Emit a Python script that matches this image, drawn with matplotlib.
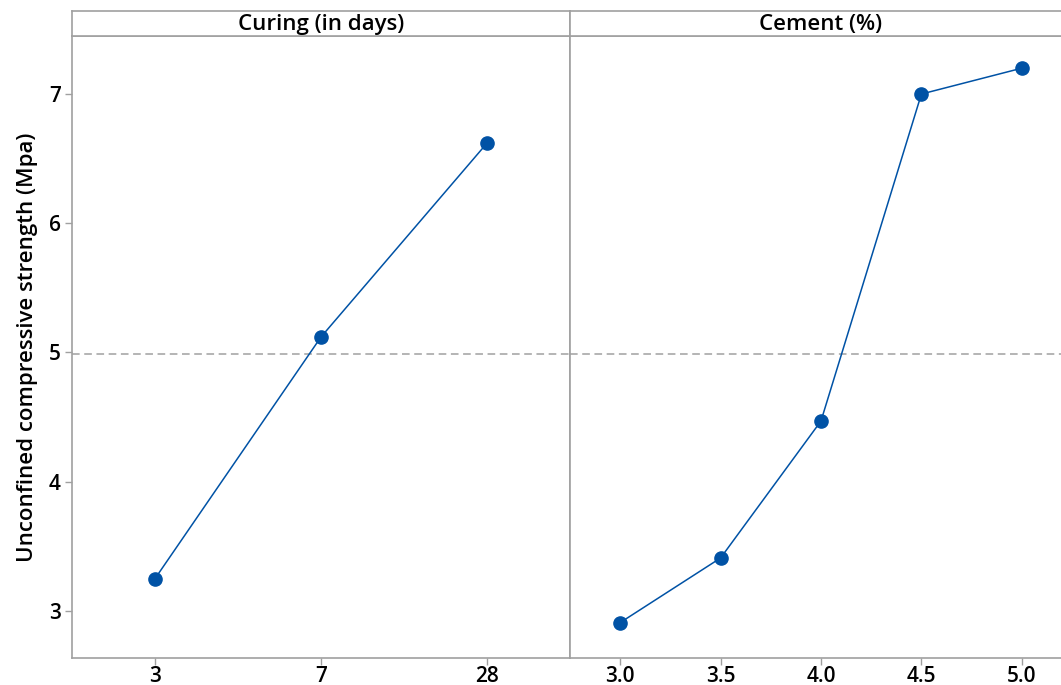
import matplotlib.pyplot as plt

plt.rcParams['font.family'] = ['Open Sans', 'DejaVu Sans']

# main effects: mean strength per factor level
curing_levels = ['3', '7', '28']
curing_means = [3.25, 5.12, 6.62]
cement_levels = ['3.0', '3.5', '4.0', '4.5', '5.0']
cement_means = [2.91, 3.41, 4.47, 7.00, 7.20]
y_ticks = [3, 4, 5, 6, 7]
overall_mean = 4.99

blue = '#0052a5'
grey = '#a0a0a0'

fig = plt.figure(figsize=(10.61, 6.85), dpi=100)

W, H = 1061, 685
def box(x0, y0, x1, y1):
    # pixel box -> figure fraction rect
    return [x0 / W, 1 - y1 / H, (x1 - x0) / W, (y1 - y0) / H]

panels = [
    (box(72, 36, 570, 658), box(72, 11, 570, 36), 'Curing (in days)', curing_levels, curing_means),
    (box(570, 36, 1072, 658), box(570, 11, 1072, 36), 'Cement (%)', cement_levels, cement_means),
]

for i, (rect, hrect, title, levels, means) in enumerate(panels):
    ax = fig.add_axes(rect)
    x = list(range(len(levels)))
    ax.axhline(overall_mean, color=grey, lw=1.1, ls=(0, (5, 3)), zorder=1)
    ax.plot(x, means, color=blue, lw=1.1, marker='o', ms=9.5,
            markerfacecolor=blue, markeredgecolor=blue, zorder=3)
    ax.set_xlim(-0.5, len(levels) - 0.5)
    ax.set_ylim(2.636, 7.449)
    ax.set_xticks(x)
    ax.set_xticklabels(levels)
    ax.set_yticks(y_ticks)
    for s in ax.spines.values():
        s.set_color(grey)
        s.set_linewidth(1.2)
    ax.tick_params(axis='both', colors=grey, labelcolor='black', length=5,
                   width=1, labelsize=15, pad=3)
    ax.tick_params(axis='x', pad=0.5)
    for lab in ax.get_xticklabels() + ax.get_yticklabels():
        lab.set_fontweight('semibold')
    if i == 0:
        ax.set_ylabel('Unconfined compressive strength (Mpa)', fontsize=16,
                      fontweight='semibold', labelpad=8)
    else:
        ax.tick_params(axis='y', left=False, labelleft=False)

    hax = fig.add_axes(hrect)
    hax.set_xticks([])
    hax.set_yticks([])
    for s in hax.spines.values():
        s.set_color(grey)
        s.set_linewidth(1.2)
    hax.text(0.5, 0.45, title, ha='center', va='center', fontsize=16,
             fontweight='semibold', transform=hax.transAxes)

fig.savefig('out.png', dpi=100)
